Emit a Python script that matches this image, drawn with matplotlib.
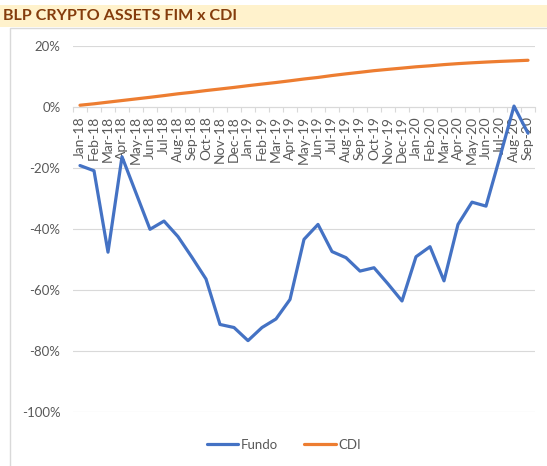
import matplotlib
matplotlib.use("Agg")
import matplotlib.pyplot as plt
from matplotlib.patches import Rectangle
from matplotlib.ticker import FuncFormatter, FixedLocator

plt.rcParams['font.family'] = ['Lato', 'DejaVu Sans']

months = ["Jan-18", "Feb-18", "Mar-18", "Apr-18", "May-18", "Jun-18", "Jul-18", "Aug-18",
          "Sep-18", "Oct-18", "Nov-18", "Dec-18", "Jan-19", "Feb-19", "Mar-19", "Apr-19",
          "May-19", "Jun-19", "Jul-19", "Aug-19", "Sep-19", "Oct-19", "Nov-19", "Dec-19",
          "Jan-20", "Feb-20", "Mar-20", "Apr-20", "May-20", "Jun-20", "Jul-20", "Aug-20",
          "Sep-20"]

fundo = [-19.2, -20.9, -47.6, -16.3, -28.2, -40.1, -37.4, -42.5, -49.3, -56.4, -71.3, -72.3,
         -76.6, -72.3, -69.5, -63.1, -43.4, -38.5, -47.4, -49.4, -53.8, -52.7, -58.0, -63.6,
         -49.1, -45.8, -57.0, -38.5, -31.2, -32.5, -16.3, 0.3, -8.6]

cdi = [0.58, 1.05, 1.59, 2.12, 2.65, 3.18, 3.74, 4.33, 4.82, 5.39, 5.90, 6.42,
       6.99, 7.52, 8.03, 8.59, 9.18, 9.69, 10.32, 10.87, 11.38, 11.91, 12.34, 12.75,
       13.18, 13.51, 13.90, 14.22, 14.49, 14.73, 14.95, 15.13, 15.32]

yticks = [20, 0, -20, -40, -60, -80, -100]

W, H = 547, 466
fig = plt.figure(figsize=(W / 100, H / 100), dpi=100)

# title bar
fig.patches.append(Rectangle((0, 1 - 27 / H), 1, 22 / H, transform=fig.transFigure,
                             facecolor="#FFF2CC", edgecolor="none", zorder=-5))
fig.text(3 / W, 1 - 16.5 / H, "BLP CRYPTO ASSETS FIM x CDI", ha="left", va="center",
         fontsize=11.6, fontweight="bold", color="#843C0C")
# chart area border
fig.patches.append(Rectangle((10 / W, -0.01), 1.0, 1 - 28 / H + 0.01, transform=fig.transFigure,
                             facecolor="none", edgecolor="#D9D9D9", linewidth=1, zorder=-5))

left, right, top, bottom = 73, 535, 46, 412
ax = fig.add_axes([left / W, 1 - bottom / H, (right - left) / W, (bottom - top) / H])
ax.set_facecolor("none")

x = list(range(len(months)))
ax.plot(x, fundo, color="#4472C4", linewidth=2.3, label="Fundo", zorder=3,
        solid_joinstyle="round", solid_capstyle="round")
ax.plot(x, cdi, color="#ED7D31", linewidth=2.3, label="CDI", zorder=3,
        solid_joinstyle="round", solid_capstyle="round")

ax.set_xlim(-0.5, len(months) - 0.5)
ax.set_ylim(-100, 20)
ax.set_yticks(yticks)
ax.yaxis.set_major_formatter(FuncFormatter(lambda v, p: f"{int(v)}%"))
ax.grid(axis="y", color="#D9D9D9", linewidth=0.8, zorder=0)
ax.set_axisbelow(True)
ax.tick_params(axis="y", length=0, pad=9, labelsize=9.5, labelcolor="#595959")

for s in ["left", "right", "top"]:
    ax.spines[s].set_visible(False)
ax.spines["bottom"].set_position(("data", 0))
ax.spines["bottom"].set_color("#D9D9D9")
ax.spines["bottom"].set_linewidth(0.8)

ax.set_xticks(x)
ax.set_xticklabels(months, rotation=90)
ax.tick_params(axis="x", which="major", length=0, pad=6.5, labelsize=10, labelcolor="#595959")
ax.xaxis.set_minor_locator(FixedLocator([i - 0.5 for i in range(len(months) + 1)]))
ax.tick_params(axis="x", which="minor", length=3.5, width=0.8, color="#D9D9D9", direction="out")

fig.legend(loc="center", bbox_to_anchor=(284 / W, 1 - 445 / H), ncol=2, frameon=False,
           fontsize=9.5, labelcolor="#595959", handlelength=2.4, columnspacing=2.0,
           handletextpad=0.2)

fig.savefig("out.png", dpi=100)
